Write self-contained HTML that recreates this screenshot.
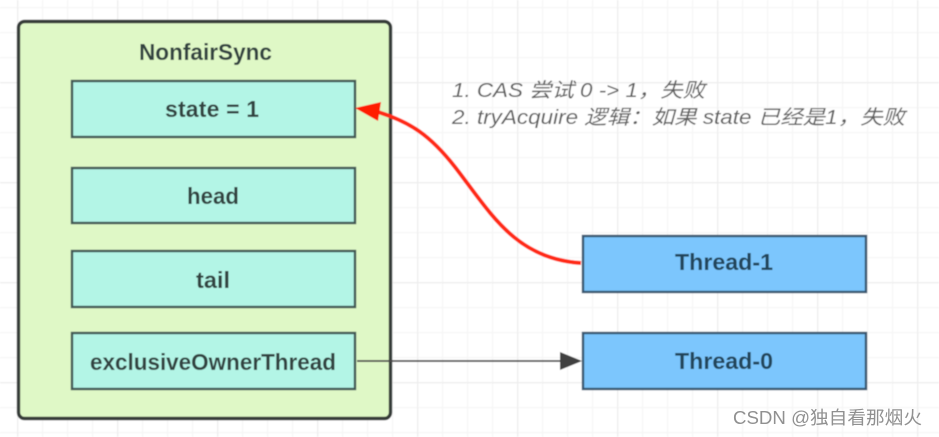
<!DOCTYPE html>
<html>
<head>
<meta charset="utf-8">
<style>
html,body{margin:0;padding:0;background:#fff;width:939px;height:437px;overflow:hidden}
svg{display:block;position:absolute;left:0;top:0}
text{font-family:"Liberation Sans","Noto Sans CJK SC",sans-serif}
.b{font-weight:bold;font-size:23px;fill:#33433f;text-anchor:start}
.n{font-style:italic;font-size:20px;fill:#5f5f5f}
</style>
</head>
<body>
<svg width="939" height="437" viewBox="0 0 939 437" xmlns="http://www.w3.org/2000/svg">
<defs>
<filter id="s" x="-5%" y="-5%" width="110%" height="110%"><feGaussianBlur stdDeviation="0.6"/></filter>
<pattern id="g" x="17" y="7" width="25" height="25" patternUnits="userSpaceOnUse">
<path d="M0.5 0V25M0 0.5H25" stroke="#f6f6f6" stroke-width="1.5" fill="none"/>
</pattern>
<pattern id="G" x="17" y="82" width="100" height="100" patternUnits="userSpaceOnUse">
<path d="M0.5 0V100M0 0.5H100" stroke="#eeeeee" stroke-width="1.5" fill="none"/>
</pattern>
</defs>
<g filter="url(#s)">
<rect width="939" height="437" fill="#fff"/>
<rect width="939" height="437" fill="url(#g)"/>
<rect width="939" height="437" fill="url(#G)"/>

<rect x="18.5" y="21.5" width="372" height="397" rx="6" fill="#dff8c6" stroke="#343b38" stroke-width="3.4"/>
<text class="b" x="139" y="60" textLength="133" lengthAdjust="spacingAndGlyphs">NonfairSync</text>

<g fill="#b3f5e6" stroke="#3f5753" stroke-width="2.4">
<rect x="72" y="81" width="283" height="56"/>
<rect x="72" y="168" width="283" height="55"/>
<rect x="72" y="251" width="283" height="56"/>
<rect x="72" y="333" width="283" height="56"/>
</g>
<text class="b" x="165" y="117" textLength="94" lengthAdjust="spacing">state = 1</text>
<text class="b" x="187" y="204" textLength="52" lengthAdjust="spacingAndGlyphs">head</text>
<text class="b" x="196" y="288" textLength="34" lengthAdjust="spacingAndGlyphs">tail</text>
<text class="b" x="90" y="370" textLength="246" lengthAdjust="spacingAndGlyphs">exclusiveOwnerThread</text>

<g fill="#7cc6fd" stroke="#375670" stroke-width="2.4">
<rect x="583" y="236" width="283" height="56"/>
<rect x="583" y="333" width="283" height="56"/>
</g>
<text class="b" x="675" y="270" textLength="98" lengthAdjust="spacingAndGlyphs" style="fill:#24445a">Thread-1</text>
<text class="b" x="675" y="369" textLength="98" lengthAdjust="spacingAndGlyphs" style="fill:#24445a">Thread-0</text>

<path d="M357 361H562" stroke="#4a4a4a" stroke-width="1.8" fill="none"/>
<path d="M560 352L582 361L560 370Z" fill="#3f3f3f"/>

<path d="M581 263C515 259 490 212 455 167C430 135 410 122 378 112" stroke="#ff2a12" stroke-width="4" fill="none"/>
<path d="M355 108L381 102L378 121Z" fill="#ff1a06"/>

<text class="n" x="452" y="97" textLength="253" lengthAdjust="spacingAndGlyphs">1. CAS 尝试 0 -&gt; 1，失败</text>
<text class="n" x="452" y="124" textLength="453" lengthAdjust="spacingAndGlyphs">2. tryAcquire 逻辑：如果 state 已经是1，失败</text>
</g>
<text x="733" y="424" textLength="189" lengthAdjust="spacingAndGlyphs" style="font-size:18px;fill:#909090">CSDN @独自看那烟火</text>
</svg>
</body>
</html>
